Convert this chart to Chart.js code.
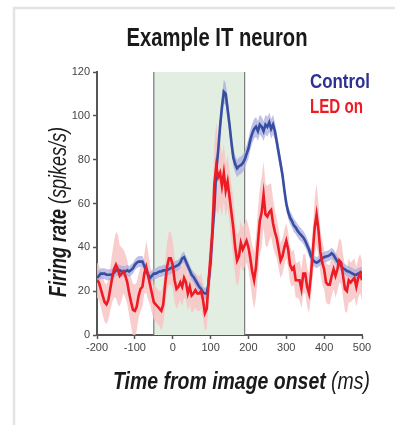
<!DOCTYPE html>
<html>
<head>
<meta charset="utf-8">
<script src="https://cdn.jsdelivr.net/npm/chart.js@4.4.1/dist/chart.umd.min.js"></script>
<style>
  html, body { margin: 0; padding: 0; background: #fff; }
  #wrap { width: 395px; height: 425px; }
</style>
</head>
<body>
<div id="wrap"><canvas id="myChart" width="395" height="425"></canvas></div>
<script>
//========================= Firing rate chart ==================================//

// time bins (ms from image onset)
const times = [
  -200, -195, -190, -185, -180, -175, -170, -165, -160, -155,
  -150, -145, -140, -135, -130, -125, -120, -115, -110, -105,
  -100, -95, -90, -85, -80, -75, -70, -65, -60, -55,
  -50, -45, -40, -35, -30, -25, -20, -15, -10, -5,
  0, 5, 10, 15, 20, 25, 30, 35, 40, 45,
  50, 55, 60, 65, 70, 75, 80, 85, 90, 95,
  100, 105, 110, 115, 120, 125, 130, 135, 140, 145,
  150, 155, 160, 165, 170, 175, 180, 185, 190, 195,
  200, 205, 210, 215, 220, 225, 230, 235, 240, 245,
  250, 255, 260, 265, 270, 275, 280, 285, 290, 295,
  300, 305, 310, 315, 320, 325, 330, 335, 340, 345,
  350, 355, 360, 365, 370, 375, 380, 385, 390, 395,
  400, 405, 410, 415, 420, 425, 430, 435, 440, 445,
  450, 455, 460, 465, 470, 475, 480, 485, 490, 495,
  500
];

// mean firing rate, control trials (spikes/s)
const controlRate = [
  26, 27, 28, 28, 28, 27.5, 27.5, 27.5, 27.6, 28.5,
  29.5, 29.7, 29.5, 29, 29, 29, 29.5, 29, 29.7, 30.5,
  32, 33, 33.5, 33.5, 33.5, 31.5, 29.5, 27.5, 26, 27,
  28, 28, 28.5, 29, 29, 29.5, 29.5, 29.7, 30, 30.5,
  31, 31, 31.5, 32, 33, 35, 35.5, 33.5, 31.5, 29.5,
  27.5, 26.5, 25, 23.5, 22, 21, 19.5, 19, 19, 24,
  33, 46, 58, 75, 84, 95, 104, 111, 110, 103,
  96, 88, 81, 78, 76, 77, 77.5, 78.4, 80, 82.5,
  85, 89, 92, 94, 95, 93, 96, 95, 93, 96,
  95, 97, 94, 96, 93, 88, 83, 78, 73, 66,
  60, 56, 53.5, 52, 50, 49, 47.5, 46.4, 45.5, 44.5,
  43, 41, 39, 36, 34.2, 33.5, 33, 33.5, 34.2, 35,
  35.5, 35.8, 36, 36.5, 37.3, 36.5, 35, 33.5, 32.5, 31.5,
  30.4, 30, 29.2, 29, 28.5, 28, 27.5, 27.5, 28, 28.5,
  28.5
];
const controlErr = [
  2.5, 2.5, 2.5, 2.5, 2.5, 2.5, 2.5, 2.5, 2.5, 2.5,
  2.5, 2.5, 2.5, 2.5, 2.5, 2.5, 2.5, 2.5, 2.5, 2.5,
  2.5, 2.5, 2.5, 2.5, 2.5, 2.5, 2.5, 2.5, 2.5, 2.5,
  2.5, 2.5, 2.5, 2.5, 2.5, 2.5, 2.5, 2.5, 2.5, 2.5,
  2.5, 2.5, 2.5, 2.5, 2.5, 2.5, 2.5, 2.5, 2.5, 2.5,
  2.5, 2.5, 2.5, 2.5, 2.5, 2.5, 2.5, 2.5, 3, 3,
  3.5, 4, 4, 4.5, 5, 5, 5.5, 5.5, 5, 5,
  4.5, 4.5, 4, 4, 4, 4, 4, 4, 4, 4,
  4.5, 4.5, 4.5, 4.5, 4.5, 4.5, 4.5, 4.5, 4.5, 4.5,
  4.5, 4.5, 4.5, 4.5, 4, 4, 4, 3.5, 3.5, 3.5,
  3, 3, 3, 3, 3, 3, 3, 3, 3, 3,
  3, 3, 3, 3, 2.5, 2.5, 2.5, 2.5, 2.5, 2.5,
  2.5, 2.5, 2.5, 2.5, 2.5, 2.5, 2.5, 2.5, 2.5, 2.5,
  2.5, 2.5, 2.5, 2.5, 2.5, 2.5, 2.5, 2.5, 2.5, 2.5,
  2.5
];

// mean firing rate, LED on trials (spikes/s)
const ledRate = [
  25, 24, 21, 18, 15, 14, 16, 21, 26, 30,
  32, 30, 27, 28, 29, 27, 24, 19, 15, 11.5,
  11, 13, 18, 21, 22, 28, 31, 27, 23, 19,
  15, 14, 13, 12, 11, 14, 23, 31, 35, 35,
  32, 25, 21, 22, 24, 22, 26, 24, 19, 22,
  18, 19, 20.5, 19, 19, 20, 16, 10, 12, 25,
  36, 48, 69, 77, 72, 74, 68, 74, 66, 70,
  63, 56, 49, 40, 34, 36, 42, 39, 41, 43,
  40, 35, 29, 25, 31, 42, 52, 56, 64, 55,
  54, 56, 57, 51, 47, 44, 39, 34, 36, 40,
  43, 39, 32, 30, 31, 25, 25, 25, 21, 28,
  28, 22, 19, 27, 38, 49, 55, 48, 38, 33,
  30, 24, 23, 23, 27, 30, 27, 30, 34, 33,
  27, 21, 20, 25, 24, 25, 26, 22, 26, 28,
  25
];
const ledErr = [
  8, 8, 8, 9, 9, 9, 9, 10, 11, 13,
  15, 16, 14, 12, 10, 10, 10, 10, 11, 12,
  12, 11, 10, 10, 9, 9, 12, 11, 9, 9,
  8, 8, 8, 8, 9, 9, 10, 11, 12, 12,
  11, 10, 9, 8, 8, 9, 9, 8, 8, 8,
  8, 8, 8, 8, 8, 8, 8, 8, 9, 10,
  12, 16, 18, 20, 17, 15, 14, 13, 12, 12,
  12, 13, 14, 13, 12, 11, 10, 10, 10, 10,
  10, 11, 12, 13, 14, 15, 15, 16, 15, 14,
  14, 13, 12, 11, 10, 9, 9, 8, 8, 8,
  8, 8, 8, 8, 8, 8, 8, 9, 9, 9,
  9, 9, 9, 10, 11, 13, 14, 12, 10, 10,
  9, 9, 9, 9, 9, 9, 10, 10, 10, 10,
  10, 10, 10, 10, 9, 9, 9, 9, 9, 9,
  9
];

// LED window (ms) and axis ticks
const ledWindow = [-50, 190];
const xTicks = [-200, -100, 0, 100, 200, 300, 400, 500];
const yTicks = [0, 20, 40, 60, 80, 100, 120];

const BLUE = 'rgb(55, 78, 162)';
const RED = 'rgb(237, 28, 36)';

const pts = (vals) => times.map((t, i) => ({ x: t, y: vals[i] }));
const band = (vals, err, sign) => times.map((t, i) => ({ x: t, y: vals[i] + sign * err[i] }));

/***************************************************************
* Plugins: frame, LED window, text
****************************************************************/
const framePlugin = {
  id: 'frame',
  beforeDraw(chart) {
    const c = chart.ctx;
    c.save();
    c.strokeStyle = '#e4e4e4';
    c.lineWidth = 2.5;
    c.beginPath();
    c.moveTo(14, 425);
    c.lineTo(14, 8);
    c.lineTo(395, 8);
    c.stroke();
    c.restore();
  }
};

const windowPlugin = {
  id: 'ledWindow',
  beforeDatasetsDraw(chart) {
    const c = chart.ctx;
    const x = chart.scales.x, y = chart.scales.y;
    const x0 = x.getPixelForValue(ledWindow[0]);
    const x1 = x.getPixelForValue(ledWindow[1]);
    const top = y.getPixelForValue(120), bottom = y.getPixelForValue(0);
    c.save();
    c.fillStyle = '#e2eee2';
    c.fillRect(x0, top, x1 - x0, bottom - top);
    c.strokeStyle = '#7a7a7a';
    c.lineWidth = 1.2;
    c.beginPath();
    c.moveTo(x0, top); c.lineTo(x0, bottom);
    c.moveTo(x1, top); c.lineTo(x1, bottom);
    c.stroke();
    c.restore();
  }
};

// draws runs of text squeezed to a width, like a condensed face
function squeezed(c, parts, x, y, width, align) {
  let total = 0;
  parts.forEach(p => { c.font = p.font; p.w = c.measureText(p.text).width; total += p.w; });
  const sx = width / total;
  c.save();
  c.translate(x, y);
  c.scale(sx, 1);
  let cx = align === 'center' ? -total / 2 : 0;
  c.textBaseline = 'alphabetic';
  c.textAlign = 'left';
  parts.forEach(p => {
    c.font = p.font;
    c.fillStyle = p.color;
    c.fillText(p.text, cx, 0);
    cx += p.w;
  });
  c.restore();
}

const textPlugin = {
  id: 'labels',
  afterDraw(chart) {
    const c = chart.ctx;
    const F = '"Liberation Sans", Arial, sans-serif';
    squeezed(c, [{ text: 'Example IT neuron', font: 'bold 26px ' + F, color: '#1a1a1a' }], 217, 46, 181, 'center');
    squeezed(c, [{ text: 'Control', font: 'bold 20px ' + F, color: '#2e3192' }], 310, 88, 60, 'left');
    squeezed(c, [{ text: 'LED on', font: 'bold 20px ' + F, color: RED }], 310, 113, 53, 'left');

    squeezed(c, [
      { text: 'Time from image onset ', font: 'italic bold 23px ' + F, color: '#1a1a1a' },
      { text: '(ms)', font: 'italic 23px ' + F, color: '#1a1a1a' }
    ], 113, 389, 257, 'left');

    c.save();
    c.translate(66, 297);
    c.rotate(-Math.PI / 2);
    squeezed(c, [
      { text: 'Firing rate ', font: 'italic bold 23px ' + F, color: '#1a1a1a' },
      { text: '(spikes/s)', font: 'italic 23px ' + F, color: '#1a1a1a' }
    ], 0, 0, 170, 'left');
    c.restore();
  }
};

/***************************************************************
* Line chart
****************************************************************/
const ctx = document.getElementById('myChart').getContext('2d');

const axisFont = { family: '"Liberation Sans", Arial, sans-serif', size: 11 };

const myChart = new Chart(ctx, {
  type: 'line',
  data: {
    datasets: [
      { data: pts(ledRate), borderColor: RED, borderWidth: 2.6, order: 0 },
      { data: pts(controlRate), borderColor: BLUE, borderWidth: 2.6, order: 1 },
      { data: band(controlRate, controlErr, 1), borderWidth: 0, order: 2 },
      { data: band(controlRate, controlErr, -1), borderWidth: 0, fill: '-1', backgroundColor: 'rgba(170, 172, 222, 0.75)', order: 2 },
      { data: band(ledRate, ledErr, 1), borderWidth: 0, order: 3 },
      { data: band(ledRate, ledErr, -1), borderWidth: 0, fill: '-1', backgroundColor: 'rgba(247, 196, 196, 0.85)', order: 3 }
    ]
  },
  options: {
    responsive: false,
    animation: false,
    events: [],
    elements: { point: { radius: 0 }, line: { tension: 0 } },
    layout: { padding: { left: 67, right: 33, top: 72, bottom: 65 } },
    plugins: { legend: { display: false }, tooltip: { enabled: false } },
    scales: {
      x: {
        type: 'linear', min: -200, max: 500,
        afterBuildTicks: s => { s.ticks = xTicks.map(v => ({ value: v })); },
        afterFit: s => { s.height = 25; },
        ticks: { color: '#444', font: axisFont, padding: 2, maxRotation: 0 },
        grid: { drawOnChartArea: false, tickLength: 4, tickColor: '#555', tickWidth: 1.5 },
        border: { color: '#555', width: 2 }
      },
      y: {
        min: 0, max: 120,
        afterBuildTicks: s => { s.ticks = yTicks.map(v => ({ value: v })); },
        afterFit: s => { s.width = 30; },
        ticks: { color: '#444', font: axisFont, padding: 3 },
        grid: { drawOnChartArea: false, tickLength: 4, tickColor: '#555', tickWidth: 1.5 },
        border: { color: '#555', width: 2 }
      }
    }
  },
  plugins: [framePlugin, windowPlugin, textPlugin]
});
</script>
</body>
</html>
